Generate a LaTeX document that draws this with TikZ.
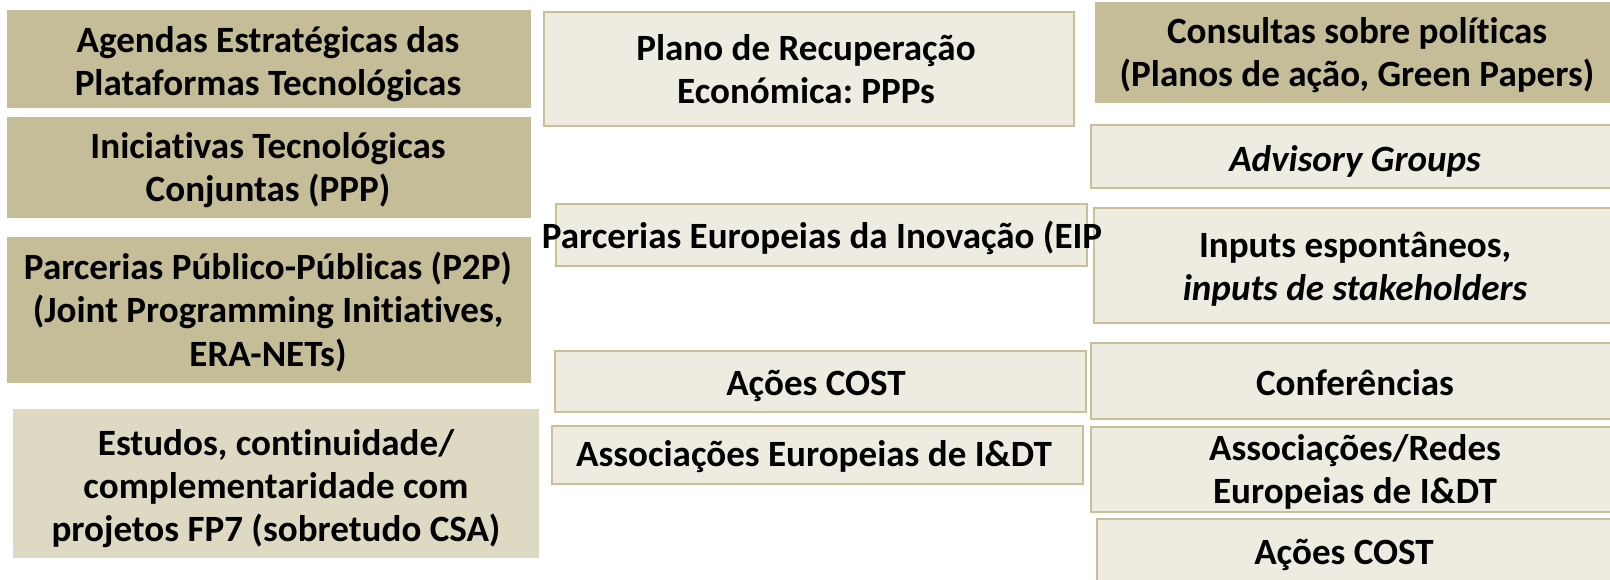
\documentclass[tikz,border=0pt]{standalone}
\usepackage{fontspec}
\setmainfont{Carlito}[Ligatures=CommonOff]
\frenchspacing
\definecolor{darktan}{HTML}{C4BD97}
\definecolor{midtan}{HTML}{DDD9C3}
\definecolor{lighttan}{HTML}{EEECE1}
\definecolor{edgetan}{HTML}{C9C09A}
\tikzset{
  darkbox/.style={fill=darktan},
  midbox/.style={fill=midtan},
  lightbox/.style={fill=lighttan, draw=edgetan, line width=1.5pt},
  lbl/.style={font=\bfseries\fontsize{27.8}{32.3}\selectfont, align=center, inner sep=0pt, text=black}
}
\begin{document}
\begin{tikzpicture}[x=0.75pt,y=-0.75pt]
\useasboundingbox (0,0) rectangle (1610,579);
\clip (0,0) rectangle (1610,579);
% left column
\path[darkbox] (7,10) rectangle (531,108);
\path[darkbox] (7,117) rectangle (531,218);
\path[darkbox] (7,237) rectangle (531,383);
\path[midbox] (13,409) rectangle (539,558);
% middle column
\path[lightbox] (544,12) rectangle (1074,126);
\path[lightbox] (556,204) rectangle (1087,266);
\path[lightbox] (555,351) rectangle (1086,412);
\path[lightbox] (552,426) rectangle (1083,484);
% right column
\path[darkbox] (1095,2) rectangle (1620,103);
\path[lightbox] (1091,125) rectangle (1625,188);
\path[lightbox] (1094,208) rectangle (1625,323);
\path[lightbox] (1091,343) rectangle (1625,419);
\path[lightbox] (1091,427) rectangle (1625,512);
\path[lightbox] (1097,519) rectangle (1625,600);
% texts
\node[lbl] (agendas) at (268,64) {Agendas Estratégicas das\\Plataformas Tecnológicas};
\node[lbl] (inic) at (268,170) {Iniciativas Tecnológicas\\Conjuntas (PPP)};
\node[lbl] (p2p) at (268,312) {Parcerias Público-Públicas (P2P)\\(Joint Programming Initiatives,\\ERA-NETs)};
\node[lbl] (estudos) at (276,489) {Estudos, continuidade/\\complementaridade com\\projetos FP7 (sobretudo CSA)};
\node[lbl] (plano) at (806,69) {Plano de Recuperação\\Económica: PPPs};
\node[lbl] (eip) at (822,238) {Parcerias Europeias da Inovação (EIP};
\node[lbl] (cost1) at (816,386) {Ações COST};
\node[lbl] (assoc1) at (814,457) {Associações Europeias de I\&DT};
\node[lbl] (consultas) at (1357,55) {Consultas sobre políticas\\(Planos de ação, Green Papers)};
\node[lbl] (advisory) at (1355,161) {\itshape Advisory Groups};
\node[lbl] (inputs) at (1355,269) {Inputs espontâneos,\\\itshape inputs de stakeholders};
\node[lbl] (conf) at (1355,383) {Conferências};
\node[lbl] (assoc2) at (1355,472) {Associações/Redes\\Europeias de I\&DT};
\node[lbl] (cost2) at (1344,555) {Ações COST};
\end{tikzpicture}
\end{document}
